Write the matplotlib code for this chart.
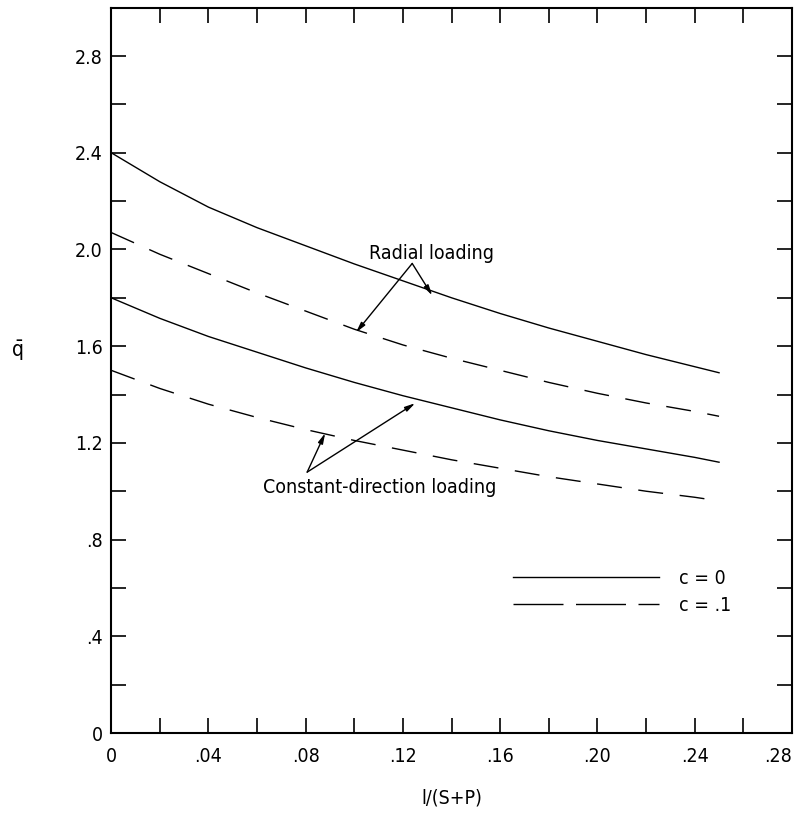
import matplotlib
matplotlib.use("Agg")
import matplotlib.pyplot as plt
from matplotlib.lines import Line2D

plt.rcParams['font.family'] = ['DejaVu Sans']
plt.rcParams['font.stretch'] = 'condensed'

x = [0, 0.02, 0.04, 0.06, 0.08, 0.10, 0.12, 0.14, 0.16, 0.18, 0.20, 0.22, 0.24, 0.25]
radial_c0 = [2.40, 2.28, 2.175, 2.09, 2.015, 1.94, 1.87, 1.80, 1.735, 1.675, 1.62, 1.565, 1.515, 1.49]
radial_c1 = [2.07, 1.98, 1.90, 1.82, 1.745, 1.67, 1.605, 1.55, 1.50, 1.45, 1.405, 1.365, 1.33, 1.31]
const_c0 = [1.80, 1.715, 1.64, 1.575, 1.51, 1.45, 1.395, 1.345, 1.295, 1.25, 1.21, 1.175, 1.14, 1.12]
const_c1 = [1.50, 1.425, 1.36, 1.305, 1.255, 1.21, 1.17, 1.13, 1.095, 1.06, 1.03, 1.0, 0.975, 0.96]

xticks = [0, 0.04, 0.08, 0.12, 0.16, 0.20, 0.24, 0.28]
xticklabels = ["0", ".04", ".08", ".12", ".16", ".20", ".24", ".28"]
yticks = [0, 0.4, 0.8, 1.2, 1.6, 2.0, 2.4, 2.8]
yticklabels = ["0", ".4", ".8", "1.2", "1.6", "2.0", "2.4", "2.8"]

fig = plt.figure(figsize=(8, 8.15), dpi=100)
ax = fig.add_axes([0.139, 0.1006, 0.851, 0.890])

dash = (0, (18, 12))
ax.plot(x, radial_c0, color="black", lw=1.0)
ax.plot(x, radial_c1, color="black", lw=1.0, linestyle=dash)
ax.plot(x, const_c0, color="black", lw=1.0)
ax.plot(x, const_c1, color="black", lw=1.0, linestyle=dash)

ax.set_xlim(0, 0.28)
ax.set_ylim(0, 3.0)
ax.set_xticks(xticks)
ax.set_xticklabels(xticklabels)
ax.set_xticks([i * 0.02 for i in range(15)], minor=True)
ax.set_yticks(yticks)
ax.set_yticklabels(yticklabels)
ax.set_yticks([i * 0.2 for i in range(16)], minor=True)
ax.tick_params(which="both", direction="in", top=True, right=True,
               length=11, width=1.2, labelsize=14)
ax.tick_params(axis="x", pad=10)
ax.tick_params(axis="y", pad=6)
ax.get_xticklabels()[-1].set_horizontalalignment("right")
for s in ax.spines.values():
    s.set_linewidth(1.5)

ax.set_xlabel("l/(S+P)", fontsize=14, labelpad=16)
fig.text(0.022, 0.57, r"$\bar{\mathrm{q}}$", fontsize=15, ha="center", va="center")

# annotations
ax.text(0.1316, 1.983, "Radial loading", fontsize=14, ha="center", va="center")
arw = dict(arrowstyle="-|>,head_length=0.6,head_width=0.15", color="black", lw=1.0,
           shrinkA=0, shrinkB=0)
ax.annotate("", xy=(0.132, 1.81), xytext=(0.1238, 1.942), arrowprops=arw)
ax.annotate("", xy=(0.1007, 1.657), xytext=(0.1238, 1.942), arrowprops=arw)

ax.text(0.1106, 1.017, "Constant-direction loading", fontsize=14, ha="center", va="center")
ax.annotate("", xy=(0.088, 1.24), xytext=(0.0806, 1.079), arrowprops=arw)
ax.annotate("", xy=(0.125, 1.364), xytext=(0.0806, 1.079), arrowprops=arw)

handles = [Line2D([], [], color="black", lw=1.0),
           Line2D([], [], color="black", lw=1.0, linestyle=(0, (36, 9)))]
ax.legend(handles, ["c = 0", "c = .1"], loc="upper left",
          bbox_to_anchor=(0.565, 0.25), frameon=False, fontsize=14,
          handlelength=7.5, handletextpad=1.0, labelspacing=0.4)

fig.savefig("out.png", dpi=100)
